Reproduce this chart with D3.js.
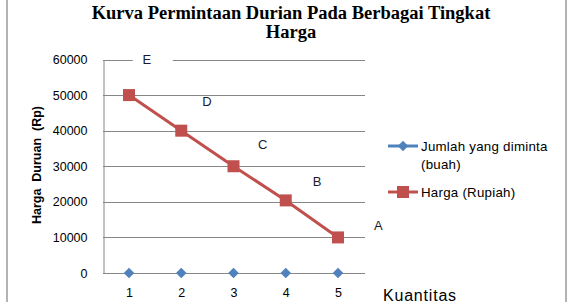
<!DOCTYPE html>
<html><head><meta charset="utf-8">
<script src="https://cdn.jsdelivr.net/npm/d3@7"></script>
<style>body{margin:0;background:#fff;}svg{display:block;}</style>
</head><body>
<svg id="c" width="577" height="302"></svg>
<script>
const categories = [1, 2, 3, 4, 5];
const jumlahValues = [0, 0, 0, 0, 0];
const hargaValues = [50000, 40000, 30000, 20400, 10000];
const yTicks = [0, 10000, 20000, 30000, 40000, 50000, 60000];
const seriesNames = ["Jumlah yang diminta", "(buah)", "Harga (Rupiah)"];
const pointLabels = ["E", "D", "C", "B", "A"];
const pointLabelX = [1.34, 2.49, 3.56, 4.6, 5.77];
const pointLabelY = [60000, 48300, 36200, 25900, 13500];
const titleLines = ["Kurva Permintaan Durian Pada Berbagai Tingkat", "Harga"];
const yTitle = "Harga  Duruan  (Rp)";
const xTitle = "Kuantitas";

const svg = d3.select("#c");
const blue = "#4F81BD", red = "#C0504D", grid = "#868686";
const sans = "'Liberation Sans', Arial, sans-serif";

// outer frame
svg.append("line").attr("x1",7).attr("x2",7).attr("y1",0).attr("y2",302).attr("stroke","#8a8a8a").attr("stroke-width",1.3);
svg.append("line").attr("x1",566).attr("x2",566).attr("y1",0).attr("y2",302).attr("stroke","#8a8a8a").attr("stroke-width",1.3);

// title
svg.append("g").selectAll("text").data(titleLines).join("text")
  .attr("x", 291).attr("y", (d,i)=>19 + i*18.5)
  .attr("text-anchor","middle")
  .attr("font-family","'Liberation Serif','Times New Roman',serif")
  .attr("font-weight","bold").attr("font-size",18.5).attr("fill","#000")
  .text(d=>d);

const x = d3.scaleLinear().domain([1,5]).range([129, 338]);
const y = d3.scaleLinear().domain([0,60000]).range([273, 59.5]);
const plotL = 103, plotR = 365;

// gridlines
svg.append("g").selectAll("line").data(yTicks.filter(t=>t>0)).join("line")
  .attr("x1",plotL).attr("x2",plotR)
  .attr("y1",d=>Math.round(y(d))+0.5).attr("y2",d=>Math.round(y(d))+0.5)
  .attr("stroke",grid).attr("stroke-width",1);

// y axis
const yAxis = d3.axisLeft(y).tickValues(yTicks).tickSize(0).tickPadding(16).tickFormat(d3.format("d"));
const ya = svg.append("g").attr("transform",`translate(${plotL+0.5},0)`).call(yAxis);
ya.select(".domain").attr("stroke",grid);
ya.selectAll("text").attr("font-family",sans).attr("font-size",12.5).attr("fill","#000");

// x axis
const xAxis = d3.axisBottom(x).tickValues(categories).tickSize(0).tickPadding(15).tickFormat(d3.format("d"));
const xa = svg.append("g").attr("transform",`translate(0,${Math.round(y(0))+0.5})`).call(xAxis);
xa.select(".domain").remove();
xa.append("line").attr("x1",plotL).attr("x2",plotR).attr("stroke",grid);
xa.selectAll("text").attr("font-family",sans).attr("font-size",12.5).attr("fill","#000");

// axis titles
svg.append("text").attr("transform",`translate(41,165) rotate(-90)`)
  .attr("text-anchor","middle").attr("font-family",sans).attr("font-weight","bold")
  .attr("font-size",12.5).attr("fill","#000").style("white-space","pre").text(yTitle);
svg.append("text").attr("x",383).attr("y",300.5).attr("font-family",sans)
  .attr("font-size",16).attr("letter-spacing",0.8).attr("fill","#000").text(xTitle);

// harga line
const line = d3.line().x((d,i)=>x(categories[i])).y(d=>y(d));
svg.append("path").datum(hargaValues).attr("d",line).attr("fill","none")
  .attr("stroke",red).attr("stroke-width",3);
svg.append("g").selectAll("rect").data(hargaValues).join("rect")
  .attr("x",(d,i)=>x(categories[i])-6).attr("y",d=>y(d)-6)
  .attr("width",12).attr("height",12).attr("fill",red);

// jumlah series (diamonds)
const diamond = d3.symbol().type(d3.symbolDiamond2).size(70);
svg.append("g").selectAll("path").data(jumlahValues).join("path")
  .attr("d",diamond).attr("transform",(d,i)=>`translate(${x(categories[i])},${y(d)})`)
  .attr("fill",blue);

// point labels
const lab = svg.append("g");
pointLabels.forEach((t,i)=>{
  if(i===0){
    lab.append("rect").attr("x",x(pointLabelX[i])-14).attr("y",y(pointLabelY[i])-4)
      .attr("width",40).attr("height",8).attr("fill","#fff");
  }
  lab.append("text").attr("x",x(pointLabelX[i])).attr("y",y(pointLabelY[i]))
    .attr("dy","0.36em").attr("text-anchor","middle")
    .attr("font-family",sans).attr("font-size",13).attr("fill","#1b1b30").text(t);
});

// legend
const lg = svg.append("g");
lg.append("line").attr("x1",388).attr("x2",418).attr("y1",146).attr("y2",146).attr("stroke",blue).attr("stroke-width",3);
lg.append("path").attr("d",diamond).attr("transform","translate(403,146)").attr("fill",blue);
lg.append("line").attr("x1",388).attr("x2",418).attr("y1",192).attr("y2",192).attr("stroke",red).attr("stroke-width",3);
lg.append("rect").attr("x",397).attr("y",186).attr("width",12).attr("height",12).attr("fill",red);
const lgText = [[146,seriesNames[0]],[164,seriesNames[1]],[192,seriesNames[2]]];
lg.selectAll("text").data(lgText).join("text").attr("x",421).attr("y",d=>d[0]).attr("dy","0.36em")
  .attr("font-family",sans).attr("font-size",13.3).attr("letter-spacing",0.25).attr("fill","#000").text(d=>d[1]);
</script>
</body></html>
